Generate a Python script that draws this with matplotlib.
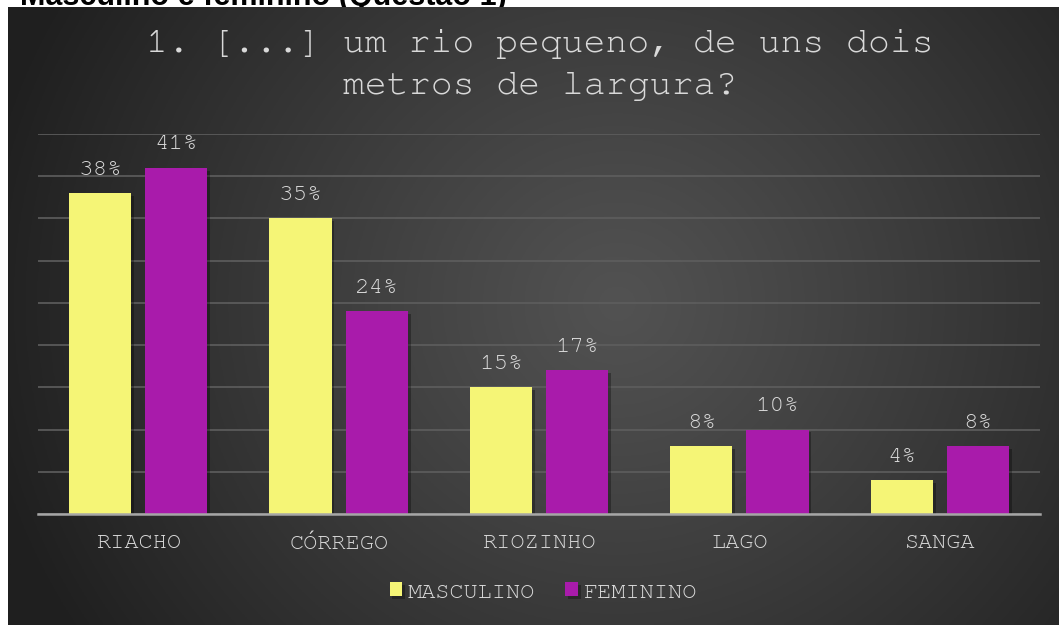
import numpy as np
import matplotlib
matplotlib.use("Agg")
import matplotlib.pyplot as plt
import matplotlib.patheffects as pe
from matplotlib import font_manager

categories = ["RIACHO", "CÓRREGO", "RIOZINHO", "LAGO", "SANGA"]
masculino = [38, 35, 15, 8, 4]
feminino = [41, 24, 17, 10, 8]
series_names = ["MASCULINO", "FEMININO"]
title = "1. [...] um rio pequeno, de uns dois\nmetros de largura?"
caption = "Masculino e feminino (Questão 1)"

available = {f.name for f in font_manager.fontManager.ttflist}
cands = ["Courier New", "Nimbus Mono PS", "Nimbus Mono L", "FreeMono", "Courier",
         "Liberation Mono", "DejaVu Sans Mono"]
mono_font = next(c for c in cands if c in available)
mono = [mono_font, "DejaVu Sans Mono"]
is_courier = mono_font not in ("Liberation Mono", "DejaVu Sans Mono")

W, H = 1059, 625
fig = plt.figure(figsize=(W / 100, H / 100), dpi=100)
fig.patch.set_facecolor("white")

txt_col = "#d9d9d9"

# cut-off caption above the chart
fig.text(20 / W, 1 - 5 / H, caption, fontsize=22, color="black", fontweight="bold",
         family=["Liberation Sans", "DejaVu Sans"], va="baseline", ha="left", zorder=0)

# background radial gradient
bg = fig.add_axes([8 / W, 0, 1 - 8 / W, 1 - 7 / H], zorder=1)
nx, ny = 400, 240
xx, yy = np.meshgrid(np.linspace(0, 1, nx), np.linspace(0, 1, ny))
cx, cy = 0.58, 0.48
d = np.sqrt(((xx - cx) * 1.0) ** 2 + ((yy - cy) * 0.62) ** 2)
d = np.clip(d / 0.62, 0, 1)
lo, hi = 0x1f / 255, 0x52 / 255
val = hi - (hi - lo) * d ** 1.1
img = np.dstack([val, val, val])
bg.imshow(img, aspect="auto", extent=[0, 1, 0, 1], origin="upper")
bg.set_axis_off()

ax = fig.add_axes([38 / W, (H - 514) / H, (1040 - 38) / W, 380 / H], zorder=2)
ax.patch.set_alpha(0)
x = np.arange(len(categories))
bw, off = 0.31, 0.19
shadow = [pe.SimplePatchShadow(offset=(2, -2), shadow_rgbFace="black", alpha=0.3), pe.Normal()]
b1 = ax.bar(x - off, masculino, bw, color="#f5f576", label=series_names[0], zorder=3,
            path_effects=shadow)
b2 = ax.bar(x + off, feminino, bw, color="#a91bab", label=series_names[1], zorder=3,
            path_effects=shadow)

lab_size = 17.5 if is_courier else 14
for bars, vals in ((b1, masculino), (b2, feminino)):
    for r, v in zip(bars, vals):
        ax.annotate(f"{v}%", (r.get_x() + r.get_width() / 2, r.get_height()),
                    xytext=(0, 10.5), textcoords="offset points", ha="center", va="bottom",
                    fontsize=lab_size, color=txt_col, family=mono)

ax.set_xlim(-0.5, len(categories) - 0.5)
ax.set_ylim(0, 45)
ax.set_yticks(np.arange(0, 46, 5))
ax.yaxis.grid(True, color="#5e5e5e", linewidth=1.2, zorder=0)
ax.tick_params(axis="y", left=False, labelleft=False)
ax.tick_params(axis="x", bottom=False, labelsize=17 if is_courier else 15,
               labelcolor=txt_col, pad=11)
ax.set_xticks(x)
ax.set_xticklabels(categories, family=mono)
for s in ["top", "right", "left"]:
    ax.spines[s].set_visible(False)
ax.spines["bottom"].set_color("#a6a6a6")
ax.spines["bottom"].set_linewidth(1.8)
ax.spines["bottom"].set_zorder(4)

leg = fig.legend(handles=[b1, b2], labels=series_names, loc="center",
                 bbox_to_anchor=(543 / W, 1 - 592 / H), ncol=2, frameon=False,
                 prop={"family": mono, "size": 17 if is_courier else 15}, labelcolor=txt_col,
                 handlelength=0.55, handleheight=0.55, handletextpad=0.2, columnspacing=1.3)

fig.text(540 / W, 1 - 65 / H, title, ha="center", va="center",
         fontsize=26.3 if is_courier else 25,
         color=txt_col, family=mono, linespacing=1.55, zorder=3)

fig.savefig("out.png", dpi=100, facecolor=fig.get_facecolor())
